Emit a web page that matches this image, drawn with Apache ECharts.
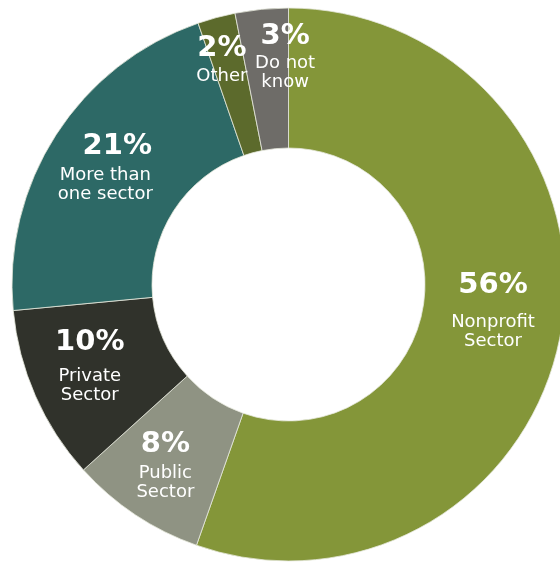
<!DOCTYPE html>
<html>
<head>
    <meta charset="utf-8">
    <title>Sector</title>
    <script src="https://cdn.jsdelivr.net/npm/echarts@6/dist/echarts.min.js"></script>
    <style>
        html, body { margin: 0; padding: 0; background: #fff; }
        #main { width: 560px; height: 563px; }
    </style>
</head>
<body>
<div id="main"></div>
<script>
    // clockwise from 12 o'clock
    // printed percentages
    var percents = [56, 8, 10, 21, 2, 3];
    // arc shares
    var shares = [55.4, 7.9, 10.2, 21.2, 2.2, 3.1];
    var names = ['Nonprofit\nSector', 'Public\nSector', 'Private\nSector', 'More than\none sector', 'Other', 'Do not\nknow'];
    var colors = ['#849639', '#8f9383', '#30322b', '#2d6966', '#5c6a2c', '#6e6c68'];

    // label tweaks (px)
    var shiftX = [-2, -7, -7, -7, -12, 17];
    var shiftY = [-15, 5, -7, -6, -24, -21];
    var pctLine = [53, 37, 47, 39, 37, 35];
    var pctPadLeft = [0, 0, 0, 24, 0, 0];

    var myChart = echarts.init(document.getElementById('main'));

    var items = [];
    for (var i = 0; i < shares.length; i++) {
        items.push({
            value: shares[i],
            name: names[i],
            itemStyle: { color: colors[i] },
            label: {
                rich: {
                    p: {
                        fontFamily: 'DejaVu Sans', fontWeight: 'bold', fontSize: 29,
                        lineHeight: pctLine[i], color: '#fff',
                        padding: [0, 0, 0, pctPadLeft[i]]
                    },
                    t: { fontFamily: 'DejaVu Sans', fontSize: 18, lineHeight: 19, color: '#fff' }
                }
            }
        });
    }

    var option = {
        animation: false,
        series: [{
            type: 'pie',
            center: [288.5, 284.5],
            radius: [136.5, 276.5],
            startAngle: 90,
            clockwise: true,
            avoidLabelOverlap: false,
            itemStyle: { borderColor: '#e6e8dc', borderWidth: 0.8 },
            label: {
                show: true,
                position: 'inside',
                color: '#fff',
                fontFamily: 'DejaVu Sans',
                formatter: function (p) {
                    var lines = p.name.split('\n').map(function (s) { return '{t|' + s + '}'; });
                    return '{p|' + percents[p.dataIndex] + '%}\n' + lines.join('\n');
                }
            },
            labelLine: { show: false },
            labelLayout: function (params) {
                return { dx: shiftX[params.dataIndex], dy: shiftY[params.dataIndex] };
            },
            data: items
        }]
    };

    myChart.setOption(option);
</script>
</body>
</html>
